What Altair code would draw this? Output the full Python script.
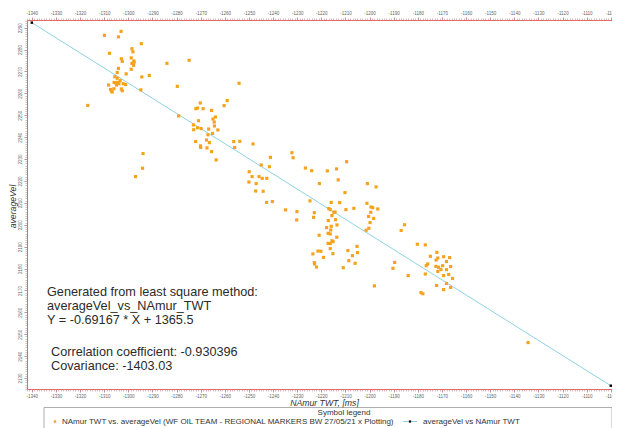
import altair as alt
import pandas as pd

# ---------------- data ----------------
twt = [
    -1309.9, -1303.0, -1304.1, -1294.6, -1307.8, -1298.5, -1298.1, -1302.9, -1302.5, -1298.8,
    -1297.7, -1298.5, -1297.6, -1297.8, -1298.8, -1304.1, -1304.6, -1300.9, -1284.0, -1274.8,
    -1305.6, -1304.6, -1303.4, -1305.9, -1305.2, -1304.5, -1303.9, -1302.1, -1301.1, -1308.2,
    -1304.9, -1294.4, -1291.3, -1307.4, -1307.0, -1306.7, -1306.0, -1302.9, -1302.5, -1294.8,
    -1279.7, -1254.1, -1316.8, -1293.9, -1294.1, -1297.0,
    -1270.2, -1272.0, -1271.3, -1269.0, -1265.5, -1260.3, -1259.0, -1279.1, -1270.9, -1263.9,
    -1264.9, -1264.4, -1273.0, -1264.3, -1271.3, -1269.8, -1272.9, -1266.7, -1262.9, -1265.1,
    -1267.0, -1267.6, -1266.4, -1272.1, -1270.1, -1270.0, -1267.4, -1265.5, -1263.6, -1256.3,
    -1253.8, -1255.9, -1248.3, -1244.9, -1241.1, -1241.5, -1249.9, -1248.7, -1245.8, -1244.5,
    -1242.6, -1250.0, -1247.0, -1247.2, -1244.1,
    -1232.2, -1231.7, -1226.6, -1224.0, -1217.5, -1213.7, -1209.5, -1213.0, -1220.8, -1210.2,
    -1200.9, -1197.3, -1242.7, -1240.3, -1224.7, -1215.9, -1212.4, -1234.8, -1230.1, -1230.2,
    -1222.9, -1216.9, -1216.3, -1214.8, -1214.3, -1209.8, -1206.5, -1201.1, -1199.4, -1198.7,
    -1196.6, -1199.5, -1223.2, -1215.6, -1200.4, -1198.3, -1217.1, -1214.1, -1213.5, -1215.9,
    -1217.8, -1199.8, -1200.3, -1201.4, -1216.1, -1217.2, -1216.3, -1220.9, -1213.6, -1215.6,
    -1217.2, -1216.3, -1215.1, -1205.2, -1216.3, -1221.4, -1220.2, -1209.0, -1223.5, -1215.2,
    -1205.0, -1219.1, -1207.1, -1222.9, -1222.8, -1208.6, -1206.0, -1222.0, -1210.9,
    -1185.5, -1186.9, -1180.2, -1176.9, -1172.1, -1174.8, -1171.7, -1172.4, -1175.9, -1176.5,
    -1172.5, -1171.4, -1170.4, -1171.7, -1189.6, -1190.3, -1176.9, -1184.0, -1172.2, -1198.0,
    -1178.7, -1177.9,
    -1169.3, -1168.1, -1166.8, -1169.7, -1168.1, -1166.4, -1169.3, -1167.2, -1165.6, -1168.1,
    -1166.4, -1169.3, -1134.3,
]
vel = [
    2286.5, 2288.3, 2285.8, 2282.7, 2278.3, 2280.4, 2279.0, 2275.8, 2274.6, 2276.2,
    2274.8, 2273.7, 2274.2, 2272.8, 2271.0, 2271.4, 2269.5, 2268.9, 2273.7, 2275.1,
    2267.6, 2266.9, 2265.8, 2265.0, 2264.8, 2265.0, 2264.4, 2264.4, 2264.0, 2263.8,
    2263.8, 2267.5, 2268.2, 2261.8, 2261.1, 2260.6, 2262.1, 2262.0, 2261.2, 2261.6,
    2263.2, 2264.6, 2254.5, 2232.5, 2225.8, 2222.0,
    2255.6, 2253.0, 2253.3, 2253.0, 2252.2, 2254.4, 2256.7, 2249.7, 2247.5, 2249.2,
    2248.3, 2246.9, 2245.6, 2245.1, 2244.3, 2243.9, 2243.4, 2243.7, 2243.3, 2241.7,
    2241.1, 2238.7, 2237.5, 2238.0, 2236.0, 2235.3, 2235.1, 2233.4, 2229.6, 2238.0,
    2238.1, 2235.3, 2236.9, 2227.3, 2230.8, 2226.5, 2224.2, 2222.0, 2222.0, 2221.2,
    2221.2, 2219.5, 2218.8, 2215.4, 2215.3,
    2232.9, 2230.6, 2225.9, 2224.7, 2224.6, 2225.5, 2228.8, 2220.5, 2218.8, 2214.7,
    2218.8, 2217.3, 2210.2, 2210.6, 2210.9, 2210.2, 2210.1, 2206.8, 2206.0, 2202.2,
    2205.5, 2207.4, 2206.9, 2205.7, 2205.8, 2206.9, 2207.5, 2209.8, 2208.1, 2207.8,
    2207.2, 2205.7, 2203.4, 2204.2, 2203.8, 2202.9, 2201.9, 2202.3, 2199.9, 2199.3,
    2198.7, 2201.0, 2198.4, 2197.5, 2197.6, 2196.1, 2195.8, 2195.2, 2194.3, 2192.7,
    2191.5, 2191.4, 2192.3, 2190.1, 2189.1, 2188.0, 2187.9, 2188.2, 2186.7, 2186.8,
    2187.3, 2185.1, 2185.9, 2182.7, 2182.1, 2183.6, 2182.4, 2180.7, 2180.4,
    2200.0, 2197.4, 2191.1, 2190.8, 2187.4, 2185.6, 2184.8, 2183.9, 2182.1, 2181.3,
    2181.0, 2180.6, 2179.5, 2178.7, 2182.8, 2180.1, 2177.5, 2176.8, 2172.3, 2172.1,
    2169.0, 2168.5,
    2185.4, 2183.2, 2185.0, 2181.3, 2179.5, 2180.9, 2176.8, 2177.3, 2175.5, 2173.2,
    2171.4, 2170.4, 2146.2,
]

# regression line end points
line_twt = [-1340, -1100]
line_vel = [2292.3, 2126.5]

# axis tick labels
x_major = list(range(-1340, -1099, 10))
x_minor = list(range(-1342, -1099, 1))
y_major = list(range(2130, 2291, 10))
y_minor = list(range(2125, 2294, 1))

annot_lines = [
    "Generated from least square method:",
    "averageVel_vs_NAmur_TWT",
    "Y = -0.69167 * X + 1365.5",
    "Correlation coefficient: -0.930396",
    "Covariance: -1403.03",
]
legend_title = "Symbol legend"
legend_entry_1 = "NAmur TWT vs. averageVel (WF OIL TEAM - REGIONAL MARKERS  BW 27/05/21 x Plotting)"
legend_entry_2 = "averageVel  vs  NAmur  TWT"
x_title = "NAmur TWT, [ms]"
y_title = "averageVel"

# ---------------- chart ----------------
W, H = 585, 369
pts = pd.DataFrame({"twt": twt, "vel": vel})
ln = pd.DataFrame({"twt": line_twt, "vel": line_vel})
one = pd.DataFrame({"k": [0]})

xs = alt.Scale(domain=[-1342, -1099.5], nice=False, zero=False)
ys = alt.Scale(domain=[2125, 2293.5], nice=False, zero=False)

RED = "#e06a6a"
TICK = "#c98f8f"
FONT = "Liberation Sans"
lbl = dict(labelFont=FONT, labelFontSize=4.5, labelColor="#666666",
           labelExpr="'' + datum.value", labelOverlap=False, labelFlush=False)

x_bottom = alt.Axis(orient="bottom", values=x_major, tickSize=3, tickColor=TICK,
                    domainColor=RED, domainWidth=1, grid=False, labelPadding=1.5,
                    title=x_title, titleFont=FONT, titleFontSize=8.7,
                    titleFontStyle="italic", titleFontWeight="normal", titleColor="#333333",
                    titleX=297, titleY=13, titleAlign="center", titleBaseline="middle", **lbl)
x_top = alt.Axis(orient="top", values=x_major, tickSize=3, tickColor=TICK,
                 domainColor=RED, domainWidth=1, grid=False, labelPadding=1.5,
                 title="", **lbl)
y_left = alt.Axis(orient="left", values=y_major, tickSize=3, tickColor=TICK,
                  domainColor=RED, domainWidth=1, grid=False, labelPadding=1.5,
                  labelAngle=270, labelAlign="center", labelBaseline="bottom",
                  title=y_title, titleFont=FONT, titleFontSize=8.7,
                  titleFontStyle="italic", titleFontWeight="normal", titleColor="#333333",
                  titleAngle=270, titleX=-15, titleY=186, titleAlign="center",
                  titleBaseline="middle", **lbl)

minor = dict(labels=False, tickSize=2, tickColor=TICK, tickWidth=0.6, domain=False,
             grid=False, title="")
x_bottom_minor = alt.Axis(orient="bottom", values=x_minor, **minor)
x_top_minor = alt.Axis(orient="top", values=x_minor, **minor)
y_left_minor = alt.Axis(orient="left", values=y_minor, **minor)

points = alt.Chart(pts).mark_square(size=10, color="#f5a21c", opacity=1).encode(
    x=alt.X("twt:Q", scale=xs, axis=x_bottom),
    y=alt.Y("vel:Q", scale=ys, axis=y_left),
)
reg_line = alt.Chart(ln).mark_line(color="#8fd2e2", strokeWidth=1, clip=True).encode(
    x=alt.X("twt:Q", scale=xs, axis=None),
    y=alt.Y("vel:Q", scale=ys, axis=None),
)
ends = alt.Chart(ln).mark_square(size=6, color="#000000", opacity=1).encode(
    x=alt.X("twt:Q", scale=xs, axis=None),
    y=alt.Y("vel:Q", scale=ys, axis=None),
)
top_axis = alt.Chart(ln).mark_point(opacity=0).encode(
    x=alt.X("twt:Q", scale=xs, axis=x_top),
    y=alt.Y("vel:Q", scale=ys, axis=None),
)
minor_b = alt.Chart(ln).mark_point(opacity=0).encode(
    x=alt.X("twt:Q", scale=xs, axis=x_bottom_minor),
    y=alt.Y("vel:Q", scale=ys, axis=None),
)
minor_t = alt.Chart(ln).mark_point(opacity=0).encode(
    x=alt.X("twt:Q", scale=xs, axis=x_top_minor),
    y=alt.Y("vel:Q", scale=ys, axis=None),
)
minor_l = alt.Chart(ln).mark_point(opacity=0).encode(
    x=alt.X("twt:Q", scale=xs, axis=None),
    y=alt.Y("vel:Q", scale=ys, axis=y_left_minor),
)

layers = [minor_b, minor_t, minor_l, top_axis, reg_line, points, ends]

# annotation text block
annot_pos = [(20, 272), (20, 286), (20, 300), (24, 332), (24, 346)]
for txt, (px, py) in zip(annot_lines, annot_pos):
    layers.append(
        alt.Chart(one).mark_text(text=txt, align="left", baseline="middle", font=FONT,
                                 fontSize=12.7, color="#2b2b2b").encode(
            x=alt.value(px), y=alt.value(py))
    )

# legend box (drawn)
LEG_FS = 8
layers.append(
    alt.Chart(one).mark_rect(fillOpacity=0, stroke="#9a9a9a", strokeWidth=0.8).encode(
        x=alt.value(17), x2=alt.value(585), y=alt.value(387.5), y2=alt.value(410))
)
layers.append(
    alt.Chart(one).mark_text(text=legend_title, align="center", baseline="middle",
                             font=FONT, fontSize=LEG_FS, color="#333333").encode(
        x=alt.value(317), y=alt.value(393))
)
layers.append(
    alt.Chart(one).mark_square(size=6, color="#f5a21c", opacity=1).encode(
        x=alt.value(28), y=alt.value(401.5))
)
layers.append(
    alt.Chart(one).mark_text(text=legend_entry_1, align="left", baseline="middle",
                             font=FONT, fontSize=LEG_FS, color="#333333").encode(
        x=alt.value(35), y=alt.value(401.5))
)
layers.append(
    alt.Chart(one).mark_rule(color="#8fd2e2", strokeWidth=1).encode(
        x=alt.value(376), x2=alt.value(390), y=alt.value(401.5))
)
layers.append(
    alt.Chart(one).mark_square(size=5, color="#000000", opacity=1).encode(
        x=alt.value(383), y=alt.value(401.5))
)
layers.append(
    alt.Chart(one).mark_text(text=legend_entry_2, align="left", baseline="middle",
                             font=FONT, fontSize=LEG_FS, color="#333333").encode(
        x=alt.value(396), y=alt.value(401.5))
)

chart = alt.layer(*layers).resolve_axis(x="independent", y="independent").properties(
    width=W, height=H,
    autosize=alt.AutoSizeParams(type="none"),
    padding={"left": 19, "top": 12, "right": 0, "bottom": 39},
    background="#ffffff",
).configure_view(strokeWidth=0)

chart.save("out.html", embed_options={"renderer": "svg", "actions": False})
